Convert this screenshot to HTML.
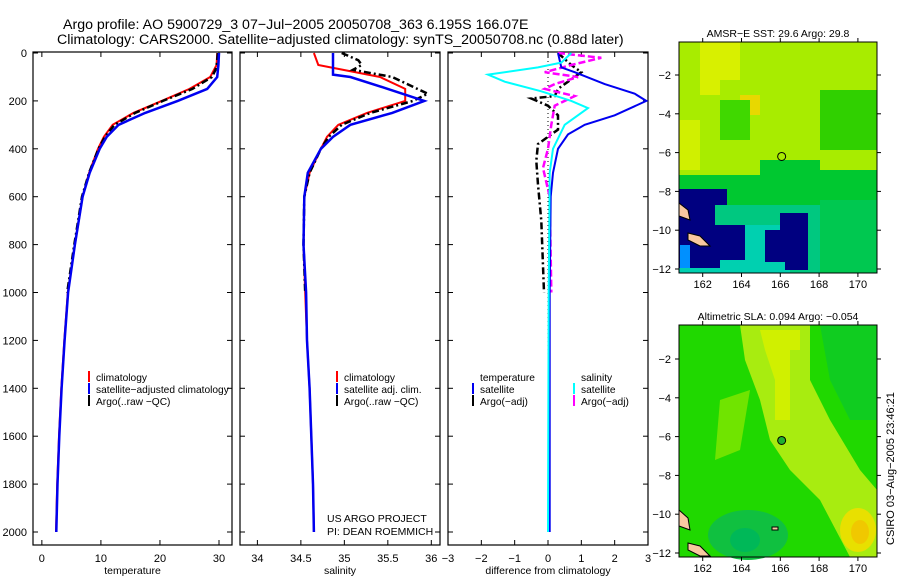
<!DOCTYPE html>
<html><head><meta charset="utf-8"><style>
html,body{margin:0;padding:0;background:#fff}
svg{display:block;font-family:"Liberation Sans",sans-serif}
</style></head><body>
<svg id="fig" width="900" height="580" viewBox="0 0 900 580">
<g font-size="14.2">
<text x="63" y="29">Argo profile: AO 5900729_3 07−Jul−2005 20050708_363 6.195S 166.07E</text>
<text x="57" y="44">Climatology: CARS2000. Satellite−adjusted climatology: synTS_20050708.nc (0.88d later)</text>
</g>
<g id="panels"></g>
<g id="maps"></g>
<text x="0" y="0" font-size="11" transform="translate(894,545) rotate(-90)">CSIRO 03−Aug−2005 23:46:21</text>
</svg>
<script>
const NS="http://www.w3.org/2000/svg";
// ---- data ----
const depthTicks=[0,200,400,600,800,1000,1200,1400,1600,1800,2000];
const tempTicks=[0,10,20,30];
const salTicks=[34,34.5,35,35.5,36];
const diffTicks=[-3,-2,-1,0,1,2,3];
const climDepth=[0,50,100,150,200,250,300,350,400,500,600,800,1000,1200,1400,1600,1800,2000];
const climTemp=[29.7,29.6,28.5,25,20.3,15.5,12,10.5,9.5,8,6.9,5.6,4.4,3.8,3.3,2.9,2.6,2.4];
const satTemp=[30,29.9,29.7,28,23,17.5,13,11,9.8,8.1,6.9,5.6,4.45,3.85,3.35,2.95,2.65,2.45];
const climSal=[34.65,34.7,35.41,35.7,35.7,35.26,34.93,34.8,34.73,34.6,34.54,34.53,34.55,34.57,34.6,34.62,34.64,34.65];
const satSalDepth=[0,90,100,150,200,250,300,350,400,500,600,800,1000,1200,1400,1600,1800,2000];
const satSal=[34.87,34.87,35.07,35.5,35.92,35.55,35.07,34.87,34.73,34.58,34.54,34.53,34.56,34.57,34.6,34.62,34.64,34.65];
const argoDepth=[0,30,50,70,100,150,170,200,250,300,350,400,500,600,800,1000];
const argoTemp=[29.8,29.7,29.6,29.4,28.8,25.5,23.5,20.5,15.8,12.3,10.7,9.6,8,6.8,5.5,4.3];
const argoSal=[34.97,35.16,35.2,35.1,35.55,35.84,35.96,35.79,35.3,34.97,34.82,34.73,34.6,34.54,34.53,34.55];
const dTsatDepth=[0,60,80,130,170,200,260,300,340,400,500,600,1000,2000];
const dTsat=[0.3,0.4,0.8,1.7,2.6,2.95,2.0,1.1,0.6,0.3,0.15,0.08,0.05,0.05];
const dTargoDepth=[0,50,80,120,150,180,190,220,260,320,380,450,550,700,1000];
const dTargo=[0.3,0.7,1.0,0.6,0.3,0.2,-0.5,0.0,0.3,0.3,-0.3,-0.35,-0.3,-0.2,-0.12];
const dSsatDepth=[0,40,60,90,120,160,200,230,300,400,500,1000,2000];
const dSsat=[0.7,0.4,-0.3,-1.8,-1.3,-0.2,0.7,1.2,0.5,0.15,0.05,0.02,0.0];
const dSargoDepth=[0,20,50,80,100,130,150,180,220,300,400,480,600,1000];
const dSargo=[0.3,1.6,0.7,-0.1,0.9,0.2,-0.1,0.8,0.2,0.1,0.0,-0.15,0.05,0.1];
// ---- axes ----
const Y=d=>53+d*0.2395;
const panels=[
 {name:'temperature',x0:33,x1:232,v0:-1.5,v1:32.2,ticks:tempTicks,label:'temperature'},
 {name:'salinity',x0:240,x1:440,v0:33.8,v1:36.1,ticks:salTicks,label:'salinity'},
 {name:'difference',x0:448,x1:648,v0:-3,v1:3,ticks:diffTicks,label:'difference from climatology'}
];
panels.forEach(p=>p.X=v=>p.x0+(v-p.v0)/(p.v1-p.v0)*(p.x1-p.x0));
const g=document.getElementById('panels');
function el(tag,attrs,parent){const e=document.createElementNS(NS,tag);for(const k in attrs)e.setAttribute(k,attrs[k]);(parent||g).appendChild(e);return e;}
function txt(x,y,s,size,anchor,parent){const t=el('text',{x:x,y:y,'font-size':size,'text-anchor':anchor||'start'},parent);t.textContent=s;return t;}
panels.forEach((p,i)=>{
 const b=el('rect',{x:p.x0,y:52,width:p.x1-p.x0,height:493,fill:'none',stroke:'#000','stroke-width':1.2});
 
 
 depthTicks.forEach(d=>{
  el('line',{x1:p.x0,x2:p.x0+5,y1:Y(d),y2:Y(d),stroke:'#000'});
  el('line',{x1:p.x1,x2:p.x1-5,y1:Y(d),y2:Y(d),stroke:'#000'});
  if(i===0){const t=txt(27,Y(d)+4,String(d),11,'end');
   
   }
 });
 p.ticks.forEach(v=>{
  el('line',{x1:p.X(v),x2:p.X(v),y1:545,y2:540,stroke:'#000'});
  el('line',{x1:p.X(v),x2:p.X(v),y1:52,y2:57,stroke:'#000'});
  const t=txt(p.X(v),562,String(v).replace('-','−'),11,'middle');
  
  
 });
 const at=txt((p.x0+p.x1)/2,574,p.label,10.5,'middle');
 
 
});
function line(p,vals,depths,color,w,dash,name){
 const pts=vals.map((v,k)=>p.X(v).toFixed(1)+','+Y(depths[k]).toFixed(1)).join(' ');
 const e=el('polyline',{points:pts,fill:'none',stroke:color,'stroke-width':w});
 if(dash)e.setAttribute('stroke-dasharray',dash);
 
 
}
const [pT,pS,pD]=panels;
line(pT,climTemp,climDepth,'#f00',2,null,'temp-climatology-line');
line(pT,argoTemp,argoDepth,'#000',2.5,'7,3,2,3','temp-argo-line');
line(pT,satTemp,climDepth,'#0000f0',2.5,null,'temp-satellite-line');
line(pS,climSal,climDepth,'#f00',2,null,'sal-climatology-line');
line(pS,argoSal,argoDepth,'#000',2.5,'7,3,2,3','sal-argo-line');
line(pS,satSal,satSalDepth,'#0000f0',2.5,null,'sal-satellite-line');
el('line',{x1:pD.X(0),x2:pD.X(0),y1:Y(0),y2:Y(2000),stroke:'#000','stroke-width':1,'stroke-dasharray':'1,3'});
line(pD,dTargo,dTargoDepth,'#000',2.5,'7,3,2,3','diff-temp-argo-line');
line(pD,dSargo,dSargoDepth,'#f0f',2.5,'7,3','diff-sal-argo-line');
line(pD,dTsat,dTsatDepth,'#0000f0',2,null,'diff-temp-satellite-line');
line(pD,dSsat,dSsatDepth,'#0ff',2,null,'diff-sal-satellite-line');
// legends
function leg(x,y,color,label,name){
 if(color){el('line',{x1:x,x2:x,y1:y-10,y2:y+1,stroke:color,'stroke-width':2});}
 const t=txt(x+7,y,label,10.2);
 
 
}
leg(89,381,'#f00','climatology','legend-entry-climatology');
leg(89,393,'#0000f0','satellite−adjusted climatology','legend-entry-satellite');
leg(89,405,'#000','Argo(..raw −QC)','legend-entry-argo');
leg(337,381,'#f00','climatology','legend-entry-climatology');
leg(337,393,'#0000f0','satellite adj. clim.','legend-entry-satellite');
leg(337,405,'#000','Argo(..raw −QC)','legend-entry-argo');
leg(473,381,null,'temperature','legend-heading-temperature');
leg(473,393,'#0000f0','satellite','legend-entry-temp-satellite');
leg(473,405,'#000','Argo(−adj)','legend-entry-temp-argo');
leg(574,381,null,'salinity','legend-heading-salinity');
leg(574,393,'#0ff','satellite','legend-entry-sal-satellite');
leg(574,405,'#f0f','Argo(−adj)','legend-entry-sal-argo');
const c1=txt(327,522,'US ARGO PROJECT',10.5);


const c2=txt(327,535,'PI: DEAN ROEMMICH',10.5);



// ---- maps ----
const m=document.getElementById('maps');
const lonTicks=[162,164,166,168,170];
const latTicks=[-2,-4,-6,-8,-10,-12];
const LX=lon=>702.7+(lon-162)*19.4;
function mapFrame(name){
 const mg=el('g',{},m);
 
 
 return mg;
}
function finishMap(mg,top,bottom,lat2y,title){
 el('rect',{x:679,y:top,width:198,height:bottom-top,fill:'none',stroke:'#000','stroke-width':1},mg);
 lonTicks.forEach(l=>{el('line',{x1:LX(l),x2:LX(l),y1:bottom,y2:bottom+4,stroke:'#000'},mg);
  el('line',{x1:LX(l),x2:LX(l),y1:top,y2:top-4,stroke:'#000'},mg);
  const t=txt(LX(l),bottom+15,String(l),11,'middle',mg);
  });
 latTicks.forEach(l=>{el('line',{x1:679,x2:675,y1:lat2y(l),y2:lat2y(l),stroke:'#000'},mg);
  el('line',{x1:877,x2:881,y1:lat2y(l),y2:lat2y(l),stroke:'#000'},mg);
  const t=txt(671,lat2y(l)+4,String(l).replace('-','−'),11,'end',mg);
  });
 const tt=txt(778,top-5,title,10.5,'middle',mg);
 
}
// top SST map
const Y1=lat=>75+(-2-lat)*19.4;
const m1=mapFrame('sst-map');
el('rect',{x:679,y:42,width:198,height:231,fill:'#00c830'},m1);
el('path',{d:'M679 42H877V170H820V160H760V175H679Z',fill:'#a8ec00'},m1);
el('path',{d:'M700 42H740V80H720V95H700Z',fill:'#d8f000'},m1);
el('path',{d:'M679 120H700V170H679Z',fill:'#d0f000'},m1);
el('path',{d:'M740 95H760V115H740Z',fill:'#e8d800'},m1);
el('path',{d:'M720 100H750V140H720Z',fill:'#40d800'},m1);
el('path',{d:'M820 90H877V150H820Z',fill:'#30d000'},m1);
el('path',{d:'M679 205H877V273H679Z',fill:'#00c880'},m1);
el('path',{d:'M679 225H790V273H679Z',fill:'#00d0b0'},m1);
el('path',{d:'M820 200H877V273H820Z',fill:'#00c850'},m1);
el('path',{d:'M679 189H727V205H715V225H745V260H720V268H679Z',fill:'#000080'},m1);
el('path',{d:'M680 245H690V268H680Z',fill:'#0090ff'},m1);
el('path',{d:'M780 213H808V270H785V262H765V230H780Z',fill:'#000080'},m1);
el('path',{d:'M679 203L688 210L690 220L679 216Z',fill:'#f8c8a0',stroke:'#000','stroke-width':1},m1);
el('path',{d:'M688 233L700 236L710 246L700 246L688 240Z',fill:'#f8c8a0',stroke:'#000','stroke-width':1},m1);
el('circle',{cx:LX(166.07),cy:Y1(-6.2),r:4,fill:'none',stroke:'#000','stroke-width':1},m1);
finishMap(m1,42,273,Y1,'AMSR−E SST: 29.6 Argo: 29.8');
// bottom SLA map
const Y2=lat=>359+(-2-lat)*19.4;
const m2=mapFrame('sla-map');
el('rect',{x:679,y:325,width:198,height:232,fill:'#20d800'},m2);
el('path',{d:'M740 325H810V380L830 420L860 470L877 490V557H850L820 500L790 470L770 440L760 400L745 360Z',fill:'#a8ec10'},m2);
el('path',{d:'M760 330H800V350H790V420H775V380L765 350Z',fill:'#d0f000'},m2);
el('ellipse',{cx:858,cy:530,rx:18,ry:22,fill:'#e8e000'},m2);
el('ellipse',{cx:860,cy:532,rx:9,ry:12,fill:'#f0c800'},m2);
el('path',{d:'M720 400L750 390L740 450L715 460Z',fill:'#70e400'},m2);
el('ellipse',{cx:748,cy:535,rx:40,ry:25,fill:'#10c040'},m2);
el('ellipse',{cx:745,cy:540,rx:15,ry:12,fill:'#00b858'},m2);
el('path',{d:'M820 325H877V420H850L830 380Z',fill:'#10cc20'},m2);
el('path',{d:'M679 510L688 518L690 530L679 526Z',fill:'#f8c8a0',stroke:'#000','stroke-width':1},m2);
el('path',{d:'M688 543L700 546L710 556L700 556L688 550Z',fill:'#f8c8a0',stroke:'#000','stroke-width':1},m2);
el('rect',{x:772,y:527,width:6,height:3,fill:'#f8c8a0',stroke:'#000','stroke-width':1},m2);
el('circle',{cx:LX(166.07),cy:Y2(-6.2),r:4,fill:'#20b030',stroke:'#000','stroke-width':1},m2);
finishMap(m2,325,557,Y2,'Altimetric SLA: 0.094 Argo: −0.054');
</script>
</body></html>
